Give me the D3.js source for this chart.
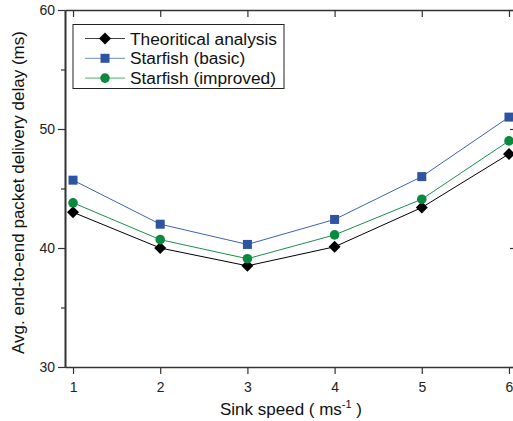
<!DOCTYPE html>
<html>
<head>
<meta charset="utf-8">
<script src="https://cdn.jsdelivr.net/npm/d3@7"></script>
<style>
  body { margin: 0; background: #fff; }
  svg { font-family: "Liberation Sans", Arial, sans-serif; }
</style>
</head>
<body>
<div id="chart"></div>
<script>
// data
const speeds = [1, 2, 3, 4, 5, 6]
const theoretical = [43.0, 40.0, 38.5, 40.1, 43.4, 47.9]
const basic = [45.7, 42.0, 40.3, 42.4, 46.0, 51.0]
const improved = [43.8, 40.7, 39.1, 41.1, 44.1, 49.0]
const yTicks = [30, 40, 50, 60]
const seriesNames = ["Theoritical analysis", "Starfish (basic)", "Starfish (improved)"]

const width = 513, height = 421
const margin = {top: 10, right: -4, bottom: 54, left: 65}

const svg = d3.select("#chart").append("svg")
    .attr("width", width).attr("height", height)

const x = d3.scaleLinear().domain([0.908, 6.092]).range([margin.left, width - margin.right])
const y = d3.scaleLinear().domain([30, 60]).range([height - margin.bottom, margin.top])

const axisColor = "#333"

// bottom axis (ticks outward)
const gx = svg.append("g").attr("transform", `translate(0,${y(30)})`)
    .call(d3.axisBottom(x).tickValues(speeds).tickFormat(d3.format("d")).tickSize(7).tickSizeOuter(0))
// top axis (ticks inward)
const gxt = svg.append("g").attr("transform", `translate(0,${y(60)})`)
    .call(d3.axisBottom(x).tickValues(speeds).tickFormat("").tickSize(7).tickSizeOuter(0))
// left axis
const gy = svg.append("g").attr("transform", `translate(${x(0.908)},0)`)
    .call(d3.axisLeft(y).tickValues(yTicks).tickSize(7).tickSizeOuter(0))
const gyMinor = svg.append("g").attr("transform", `translate(${x(0.908)},0)`)
    .call(d3.axisLeft(y).tickValues([35, 45, 55]).tickFormat("").tickSize(4).tickSizeOuter(0))
// right axis (ticks inward)
const gyr = svg.append("g").attr("transform", `translate(${x(6.092)},0)`)
    .call(d3.axisLeft(y).tickValues(yTicks).tickFormat("").tickSize(-7).tickSizeOuter(0))
gyr.selectAll(".tick line").attr("x2", -7)

for (const g of [gx, gxt, gy, gyMinor, gyr]) {
  g.select(".domain").attr("stroke", axisColor).attr("stroke-width", 1.6)
  g.selectAll(".tick line").attr("stroke", axisColor).attr("stroke-width", 1.2)
  g.selectAll(".tick text").attr("fill", "#222").attr("font-size", 14)
}
gx.selectAll(".tick text").attr("dy", "1.05em")
gy.selectAll(".tick text").attr("x", -10)

// lines + markers
const series = [
  {name: seriesNames[0], values: theoretical, color: "#000000", lineColor: "#000000", shape: "diamond"},
  {name: seriesNames[1], values: basic, color: "#2f53a3", lineColor: "#3d62b8", shape: "square"},
  {name: seriesNames[2], values: improved, color: "#0b8a3f", lineColor: "#1a9048", shape: "circle"}
]
const line = d3.line().x((d, i) => x(speeds[i])).y(d => y(d))

function marker(g, shape, cx, cy, color) {
  if (shape === "diamond") {
    g.append("path").attr("d", `M${cx},${cy - 6}L${cx + 6},${cy}L${cx},${cy + 6}L${cx - 6},${cy}Z`).attr("fill", color)
  } else if (shape === "square") {
    g.append("rect").attr("x", cx - 4.5).attr("y", cy - 4.5).attr("width", 9).attr("height", 9).attr("fill", color)
  } else {
    g.append("circle").attr("cx", cx).attr("cy", cy).attr("r", 4.8).attr("fill", color)
  }
}

series.forEach(s => {
  svg.append("path").datum(s.values).attr("d", line)
    .attr("fill", "none").attr("stroke", s.lineColor).attr("stroke-width", 1)
  const g = svg.append("g")
  s.values.forEach((v, i) => marker(g, s.shape, x(speeds[i]), y(v), s.color))
})

// legend
const lg = svg.append("g")
lg.append("rect").attr("x", 73).attr("y", 24.5).attr("width", 211).attr("height", 64)
  .attr("fill", "#fff").attr("stroke", "#222").attr("stroke-width", 1)
series.forEach((s, i) => {
  const ly = 38.5 + i * 19.8
  lg.append("line").attr("x1", 85).attr("x2", 125).attr("y1", ly).attr("y2", ly)
    .attr("stroke", s.lineColor).attr("stroke-opacity", 0.75).attr("stroke-width", 1)
  marker(lg, s.shape, 105, ly, s.color)
  lg.append("text").attr("x", 130).attr("y", ly + 6).attr("font-size", 17.3)
    .attr("fill", "#111").text(s.name)
})

// axis titles
svg.append("text").attr("transform", `translate(24,192.5) rotate(-90)`)
  .attr("text-anchor", "middle").attr("font-size", 17).attr("fill", "#111")
  .text("Avg. end-to-end packet delivery delay (ms)")
const xt = svg.append("text").attr("x", 291).attr("y", 415).attr("text-anchor", "middle")
  .attr("font-size", 17).attr("fill", "#111")
xt.append("tspan").text("Sink speed ( ms")
xt.append("tspan").attr("dy", -7).attr("font-size", 11).text("-1")
xt.append("tspan").attr("dy", 7).text(" )")
</script>
</body>
</html>
